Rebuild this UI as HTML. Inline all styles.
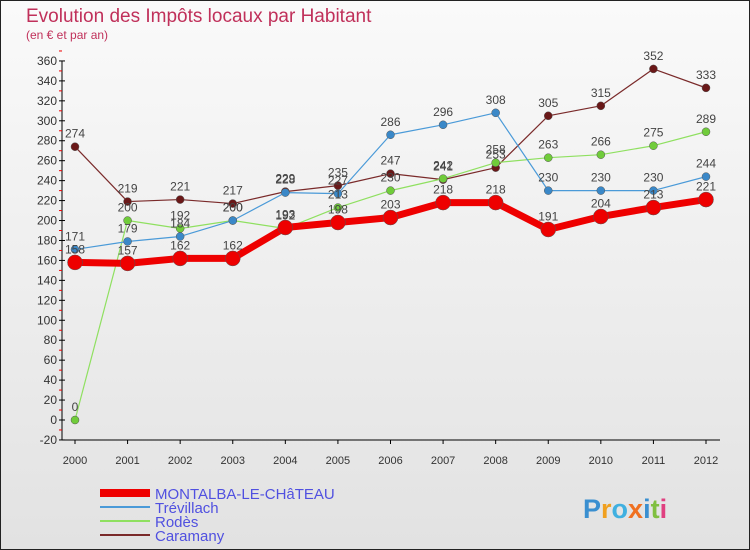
<!DOCTYPE html>
<html><head><meta charset="utf-8"><style>
body{margin:0;width:750px;height:550px;overflow:hidden;font-family:"Liberation Sans",sans-serif}
svg{display:block}
</style></head><body>
<svg id="c" width="750" height="550" xmlns="http://www.w3.org/2000/svg">
<defs><linearGradient id="bg" x1="0" y1="0" x2="0" y2="1"><stop offset="0" stop-color="#fafafa"/><stop offset="1" stop-color="#e2e2e2"/></linearGradient></defs>
<rect x="0.5" y="0.5" width="749" height="549" fill="url(#bg)" stroke="#222"/>
<text x="26" y="22" font-size="19" fill="#c0305a">Evolution des Impôts locaux par Habitant</text>
<text x="26" y="39" font-size="12" fill="#c0305a">(en € et par an)</text>
<g id="grid"></g><g id="axes"></g><g id="series"></g><g id="labels"></g><g id="legend"></g>
<text x="583" y="518" font-size="27" font-weight="bold" fill="#3a8fd0">P<tspan fill="#f0a020">r</tspan><tspan fill="#40b0e0">o</tspan><tspan fill="#f07020">x</tspan><tspan fill="#3a8fd0">i</tspan><tspan fill="#80c040">t</tspan><tspan fill="#e04080">i</tspan></text>
</svg>
<script>
const years=[2000,2001,2002,2003,2004,2005,2006,2007,2008,2009,2010,2011,2012];
const montalba=[158,157,162,162,193,198,203,218,218,191,204,213,221];
const trevillach=[171,179,184,200,228,227,286,296,308,230,230,230,244];
const rodes=[0,200,192,200,192,213,230,242,258,263,266,275,289];
const caramany=[274,219,221,217,229,235,247,241,253,305,315,352,333];
const yTicks=[-20,0,20,40,60,80,100,120,140,160,180,200,220,240,260,280,300,320,340,360];
const NS="http://www.w3.org/2000/svg";
const X=i=>75+i*(706-75)/12;
const Y=v=>420-v*(379/380);
function mk(t,a,p){const e=document.createElementNS(NS,t);for(const k in a)e.setAttribute(k,a[k]);document.getElementById(p).appendChild(e);return e;}
let ax=mk('line',{x1:62,y1:Y(360),x2:62,y2:Y(-20),stroke:'#000'},'axes');


let xa=mk('line',{x1:62,y1:440,x2:720,y2:440,stroke:'#000'},'axes');


yTicks.forEach(v=>{
  mk('line',{x1:59,y1:Y(v),x2:65,y2:Y(v),stroke:'#000'},'axes');
  mk('line',{x1:59,y1:Y(v+10),x2:62,y2:Y(v+10),stroke:'#e00'},'axes');
  const t=mk('text',{x:57,y:Y(v)+4,'font-size':12,'text-anchor':'end',fill:'#333'},'axes');
  t.textContent=v;
  
  
});
years.forEach((yr,i)=>{
  mk('line',{x1:X(i),y1:440,x2:X(i),y2:444,stroke:'#000'},'axes');
  const t=mk('text',{x:X(i),y:464,'font-size':11,'text-anchor':'middle',fill:'#333'},'axes');
  t.textContent=yr;
  
  
});
function series(vals,color,w,r,name,dot){
  const pts=vals.map((v,i)=>X(i)+','+Y(v)).join(' ');
  const l=mk('polyline',{points:pts,fill:'none',stroke:color,'stroke-width':w,'stroke-linejoin':'round'},'series');
  
  
  vals.forEach((v,i)=>{
    const c=mk('circle',{cx:X(i),cy:Y(v),r:r,fill:dot,stroke:'#555','stroke-width':0.5},'series');
    
    
    const t=mk('text',{x:X(i),y:Y(v)-9,'font-size':12,'text-anchor':'middle',fill:'#444'},'labels');
    t.textContent=v;
    
    
  });
}
series(caramany,'#7a2a2a',1.2,4,'caramany','#6a1818');
series(rodes,'#8fe060',1.2,4,'rodes','#70cc3a');
series(trevillach,'#4a9ad8',1.2,4,'trevillach','#3a88c8');
series(montalba,'#ee0000',7,7.5,'montalba','#ee0000');
const leg=[['MONTALBA-LE-CHâTEAU','#ee0000',8],['Trévillach','#4a9ad8',2],['Rodès','#8fe060',2],['Caramany','#7a2a2a',2]];
leg.forEach((d,i)=>{
  const y=493+i*14;
  const l=mk('line',{x1:100,y1:y,x2:150,y2:y,stroke:d[1],'stroke-width':d[2]},'legend');
  
  
  const t=mk('text',{x:155,y:y+6,'font-size':15,fill:'#5050e0'},'legend');
  t.textContent=d[0];
  
  
});
</script>
</body></html>
